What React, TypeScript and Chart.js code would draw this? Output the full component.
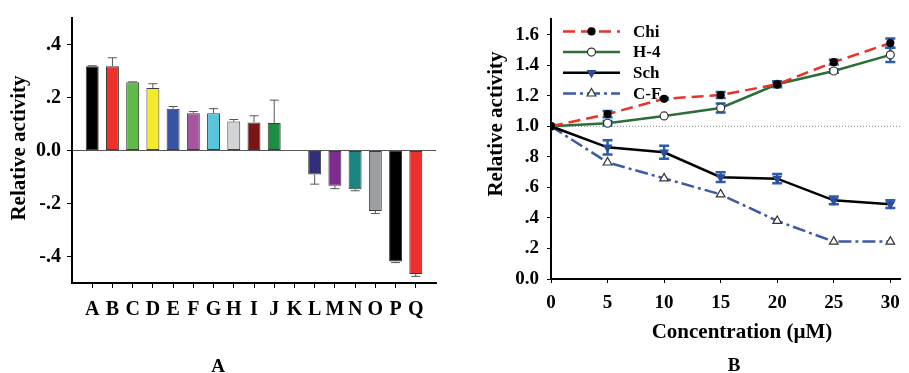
import React, { useEffect, useRef } from 'react';
import { Chart, registerables } from 'chart.js';

Chart.register(...registerables);

const FONT = "'Liberation Serif', 'Times New Roman', serif";

// ---------- Panel A data ----------
const barCategories = ['A', 'B', 'C', 'D', 'E', 'F', 'G', 'H', 'I', 'J', 'K', 'L', 'M', 'N', 'O', 'P', 'Q'];
const barValues = [0.318, 0.318, 0.258, 0.236, 0.158, 0.141, 0.141, 0.109, 0.106, 0.104, null, -0.091, -0.133, -0.146, -0.228, -0.419, -0.466];
const barErrors = [0.002, 0.032, 0.001, 0.016, 0.008, 0.006, 0.017, 0.008, 0.025, 0.086, null, 0.036, 0.011, 0.006, 0.01, 0.004, 0.009];
const barColors = ['#000000', '#ee3129', '#60bb46', '#f2ea2a', '#3953a4', '#a6559f', '#58c5dc', '#d1d3d4', '#7a1517', '#1e8c45', '#ffffff', '#312e7b', '#7b2c8e', '#1b8582', '#9c9ea1', '#000000', '#ec2f2a'];
const barTicks = [-0.4, -0.2, 0, 0.2, 0.4];

// ---------- Panel B data ----------
const concentrations = [0, 5, 10, 15, 20, 25, 30];
const chiValues = [1.0, 1.08, 1.18, 1.205, 1.275, 1.42, 1.545];
const chiErrors = [0, 0.02, 0.005, 0.02, 0.015, 0.015, 0.03];
const h4Values = [1.0, 1.02, 1.068, 1.12, 1.275, 1.362, 1.468];
const h4Errors = [0, 0.015, 0, 0.03, 0.02, 0.012, 0.047];
const schValues = [1.0, 0.862, 0.83, 0.667, 0.657, 0.515, 0.49];
const schErrors = [0, 0.047, 0.043, 0.032, 0.03, 0.025, 0.025];
const cfValues = [1.0, 0.763, 0.659, 0.554, 0.38, 0.245, 0.245];
const cfErrors = [0, 0, 0, 0, 0, 0, 0];
const lineTicksX = [0, 5, 10, 15, 20, 25, 30];
const lineTicksY = [0, 0.2, 0.4, 0.6, 0.8, 1.0, 1.2, 1.4, 1.6];
const referenceLevel = 1.0;

function fmt(v: number): string {
  if (Math.abs(v) < 1e-9) return '0.0';
  const a = Math.abs(v);
  if (a < 1) return (v < 0 ? '-' : '') + a.toFixed(1).slice(1);
  return v.toFixed(1);
}

function drawMarker(ctx: CanvasRenderingContext2D, style: string, x: number, y: number, r: number, down: boolean, fill: string, stroke: string, lw: number) {
  ctx.save();
  ctx.setLineDash([]);
  ctx.beginPath();
  if (style === 'circle') {
    ctx.arc(x, y, r, 0, Math.PI * 2);
  } else {
    const s = down ? -1 : 1;
    ctx.moveTo(x, y - s * r);
    ctx.lineTo(x + r * 0.866, y + s * r * 0.5);
    ctx.lineTo(x - r * 0.866, y + s * r * 0.5);
    ctx.closePath();
  }
  ctx.fillStyle = fill;
  ctx.fill();
  ctx.lineWidth = lw;
  ctx.strokeStyle = stroke;
  ctx.stroke();
  ctx.restore();
}

function BarPanel() {
  const ref = useRef<HTMLCanvasElement>(null);
  useEffect(() => {
    const labels = ['', ...barCategories, ''];
    const errorPlugin = {
      id: 'barErrors',
      afterDatasetsDraw(chart: any) {
        const ctx = chart.ctx;
        const meta = chart.getDatasetMeta(0);
        const y = chart.scales.y;
        ctx.save();
        ctx.strokeStyle = '#555';
        ctx.lineWidth = 1;
        barValues.forEach((v, i) => {
          const e = barErrors[i];
          if (v === null || e === null) return;
          const el = meta.data[i + 1];
          const x = el.x;
          const y0 = y.getPixelForValue(v);
          const y1 = y.getPixelForValue(v + (v >= 0 ? e : -e));
          ctx.beginPath();
          ctx.moveTo(x, y0);
          ctx.lineTo(x, y1);
          ctx.moveTo(x - 4.5, y1);
          ctx.lineTo(x + 4.5, y1);
          ctx.stroke();
        });
        ctx.restore();
      },
    };
    const textPlugin = {
      id: 'barTexts',
      afterDraw(chart: any) {
        const ctx = chart.ctx;
        ctx.save();
        ctx.fillStyle = '#000';
        ctx.textAlign = 'center';
        ctx.textBaseline = 'middle';
        ctx.font = `bold 21px ${FONT}`;
        ctx.translate(20, 148);
        ctx.rotate(-Math.PI / 2);
        ctx.fillText('Relative activity', 0, 0);
        ctx.restore();
        ctx.save();
        ctx.fillStyle = '#000';
        ctx.textAlign = 'center';
        ctx.textBaseline = 'middle';
        ctx.font = `bold 19px ${FONT}`;
        ctx.fillText('A', 218, 367);
        ctx.restore();
      },
    };
    const chart = new Chart(ref.current!, {
      type: 'bar',
      data: {
        labels,
        datasets: [
          {
            data: [null, ...barValues, null] as any,
            backgroundColor: ['#ffffff', ...barColors, '#ffffff'],
            borderColor: '#3c3c3c',
            borderWidth: 1,
            borderSkipped: false,
            barPercentage: 0.64,
            categoryPercentage: 1,
          },
        ],
      },
      options: {
        responsive: false,
        animation: false,
        layout: { padding: { left: 0, right: 19, top: 15, bottom: 0 } },
        plugins: { legend: { display: false }, tooltip: { enabled: false } },
        scales: {
          x: {
            offset: false,
            grid: {
              offset: false,
              drawOnChartArea: false,
              tickLength: 5,
              tickWidth: 1,
              tickColor: (c: any) => (c.index === 0 || c.index === labels.length - 1 ? 'rgba(0,0,0,0)' : '#000'),
            } as any,
            border: { color: '#000', width: 2 },
            ticks: { autoSkip: false, maxRotation: 0, minRotation: 0, padding: 10, color: '#000', font: { family: FONT, size: 20, weight: 'bold' } },
            afterFit: (s: any) => { s.height = 90; },
          },
          y: {
            min: -0.5,
            max: 0.5,
            afterBuildTicks: (s: any) => { s.ticks = barTicks.map((v) => ({ value: v })); },
            grid: {
              color: (c: any) => (c.tick && Math.abs(c.tick.value) < 1e-9 ? '#555' : 'rgba(0,0,0,0)'),
              lineWidth: 1,
              tickLength: 5,
              tickColor: '#000',
            } as any,
            border: { color: '#000', width: 2 },
            ticks: { callback: (v: any) => fmt(Number(v)), padding: 6, color: '#000', font: { family: FONT, size: 20, weight: 'bold' } },
            afterFit: (s: any) => { s.width = 72; },
          },
        },
      },
      plugins: [errorPlugin, textPlugin],
    } as any);
    return () => chart.destroy();
  }, []);
  return <canvas ref={ref} width={455} height={373} style={{ position: 'absolute', left: 0, top: 0, width: 455, height: 373 }} />;
}

function LinePanel() {
  const ref = useRef<HTMLCanvasElement>(null);
  useEffect(() => {
    const series = [
      { label: 'Chi', values: chiValues, errors: chiErrors, color: '#e8322a', dash: [12, 6], style: 'circle', down: false, r: 3.5, fill: '#000', stroke: '#000' },
      { label: 'H-4', values: h4Values, errors: h4Errors, color: '#2b6e39', dash: [], style: 'circle', down: false, r: 4, fill: '#fff', stroke: '#333' },
      { label: 'Sch', values: schValues, errors: schErrors, color: '#000000', dash: [], style: 'triangle', down: true, r: 4.5, fill: '#2a4d9c', stroke: '#2a4d9c' },
      { label: 'C-F', values: cfValues, errors: cfErrors, color: '#3d5aa8', dash: [13, 4, 3, 4], style: 'triangle', down: false, r: 5, fill: '#fff', stroke: '#333' },
    ];
    const refPlugin = {
      id: 'refLineAndErrors',
      beforeDatasetsDraw(chart: any) {
        const ctx = chart.ctx;
        const { left, right } = chart.chartArea;
        const y = chart.scales.y;
        const x = chart.scales.x;
        const py = y.getPixelForValue(referenceLevel);
        ctx.save();
        ctx.strokeStyle = '#888';
        ctx.lineWidth = 1;
        ctx.setLineDash([1, 2]);
        ctx.beginPath();
        ctx.moveTo(left, py);
        ctx.lineTo(right, py);
        ctx.stroke();
        ctx.setLineDash([]);
        ctx.strokeStyle = '#2a5db0';
        ctx.lineWidth = 2.5;
        series.forEach((s) => {
          s.values.forEach((v, i) => {
            const e = s.errors[i];
            if (!e) return;
            const px = x.getPixelForValue(concentrations[i]);
            const y1 = y.getPixelForValue(v + e);
            const y2 = y.getPixelForValue(v - e);
            ctx.beginPath();
            ctx.moveTo(px, y1);
            ctx.lineTo(px, y2);
            ctx.moveTo(px - 5, y1);
            ctx.lineTo(px + 5, y1);
            ctx.moveTo(px - 5, y2);
            ctx.lineTo(px + 5, y2);
            ctx.stroke();
          });
        });
        ctx.restore();
      },
    };
    const legendPlugin = {
      id: 'customLegend',
      afterDatasetsDraw(chart: any) {
        const ctx = chart.ctx;
        const { left, top } = chart.chartArea;
        series.forEach((s, i) => {
          const ry = top + 12 + i * 20.7;
          ctx.save();
          ctx.strokeStyle = s.color;
          ctx.lineWidth = 2.5;
          ctx.setLineDash(s.dash);
          ctx.beginPath();
          ctx.moveTo(left + 12, ry);
          ctx.lineTo(left + 69, ry);
          ctx.stroke();
          ctx.restore();
          drawMarker(ctx, s.style, left + 40.5, ry, s.r, s.down, s.fill, s.stroke, 1.2);
          ctx.save();
          ctx.fillStyle = '#000';
          ctx.font = `bold 17px ${FONT}`;
          ctx.textAlign = 'left';
          ctx.textBaseline = 'middle';
          ctx.fillText(s.label, left + 82, ry + 1);
          ctx.restore();
        });
      },
    };
    const textPlugin = {
      id: 'lineTexts',
      afterDraw(chart: any) {
        const ctx = chart.ctx;
        ctx.save();
        ctx.fillStyle = '#000';
        ctx.textAlign = 'center';
        ctx.textBaseline = 'middle';
        ctx.font = `bold 21px ${FONT}`;
        ctx.save();
        ctx.translate(42, 124);
        ctx.rotate(-Math.PI / 2);
        ctx.fillText('Relative activity', 0, 0);
        ctx.restore();
        ctx.fillText('Concentration (\u00b5M)', 287, 333);
        ctx.font = `bold 19px ${FONT}`;
        ctx.fillText('B', 279, 366);
        ctx.restore();
      },
    };
    const chart = new Chart(ref.current!, {
      type: 'line',
      data: {
        datasets: series.map((s) => ({
          label: s.label,
          data: concentrations.map((c, i) => ({ x: c, y: s.values[i] })),
          borderColor: s.color,
          borderWidth: 2.5,
          borderDash: s.dash,
          tension: 0,
          fill: false,
          pointStyle: s.style,
          pointRotation: s.down ? 180 : 0,
          pointRadius: s.r,
          pointBackgroundColor: s.fill,
          pointBorderColor: s.stroke,
          pointBorderWidth: 1.2,
        })),
      },
      options: {
        responsive: false,
        animation: false,
        layout: { padding: { left: 0, right: 1, top: 13, bottom: 0 } },
        plugins: { legend: { display: false }, tooltip: { enabled: false } },
        scales: {
          x: {
            type: 'linear',
            min: 0,
            max: 30.9,
            afterBuildTicks: (s: any) => { s.ticks = lineTicksX.map((v) => ({ value: v })); },
            grid: { drawOnChartArea: false, tickLength: 4, tickColor: '#000', tickWidth: 1 } as any,
            border: { color: '#000', width: 2 },
            ticks: { padding: 9, color: '#000', maxRotation: 0, font: { family: FONT, size: 19, weight: 'bold' } },
            afterFit: (s: any) => { s.height = 94; },
          },
          y: {
            min: 0,
            max: 1.7,
            afterBuildTicks: (s: any) => { s.ticks = lineTicksY.map((v) => ({ value: v })); },
            grid: { drawOnChartArea: false, tickLength: 4, tickColor: '#000', tickWidth: 1 } as any,
            border: { color: '#000', width: 2 },
            ticks: { callback: (v: any) => fmt(Number(v)), padding: 8, color: '#000', font: { family: FONT, size: 19, weight: 'bold' } },
            afterFit: (s: any) => { s.width = 96; },
          },
        },
      },
      plugins: [refPlugin, legendPlugin, textPlugin],
    } as any);
    return () => chart.destroy();
  }, []);
  return <canvas ref={ref} width={454} height={373} style={{ position: 'absolute', left: 455, top: 0, width: 454, height: 373 }} />;
}

export default function App() {
  return (
    <div style={{ position: 'absolute', left: 0, top: 0, width: 909, height: 373, background: '#fff', overflow: 'hidden' }}>
      <BarPanel />
      <LinePanel />
    </div>
  );
}
